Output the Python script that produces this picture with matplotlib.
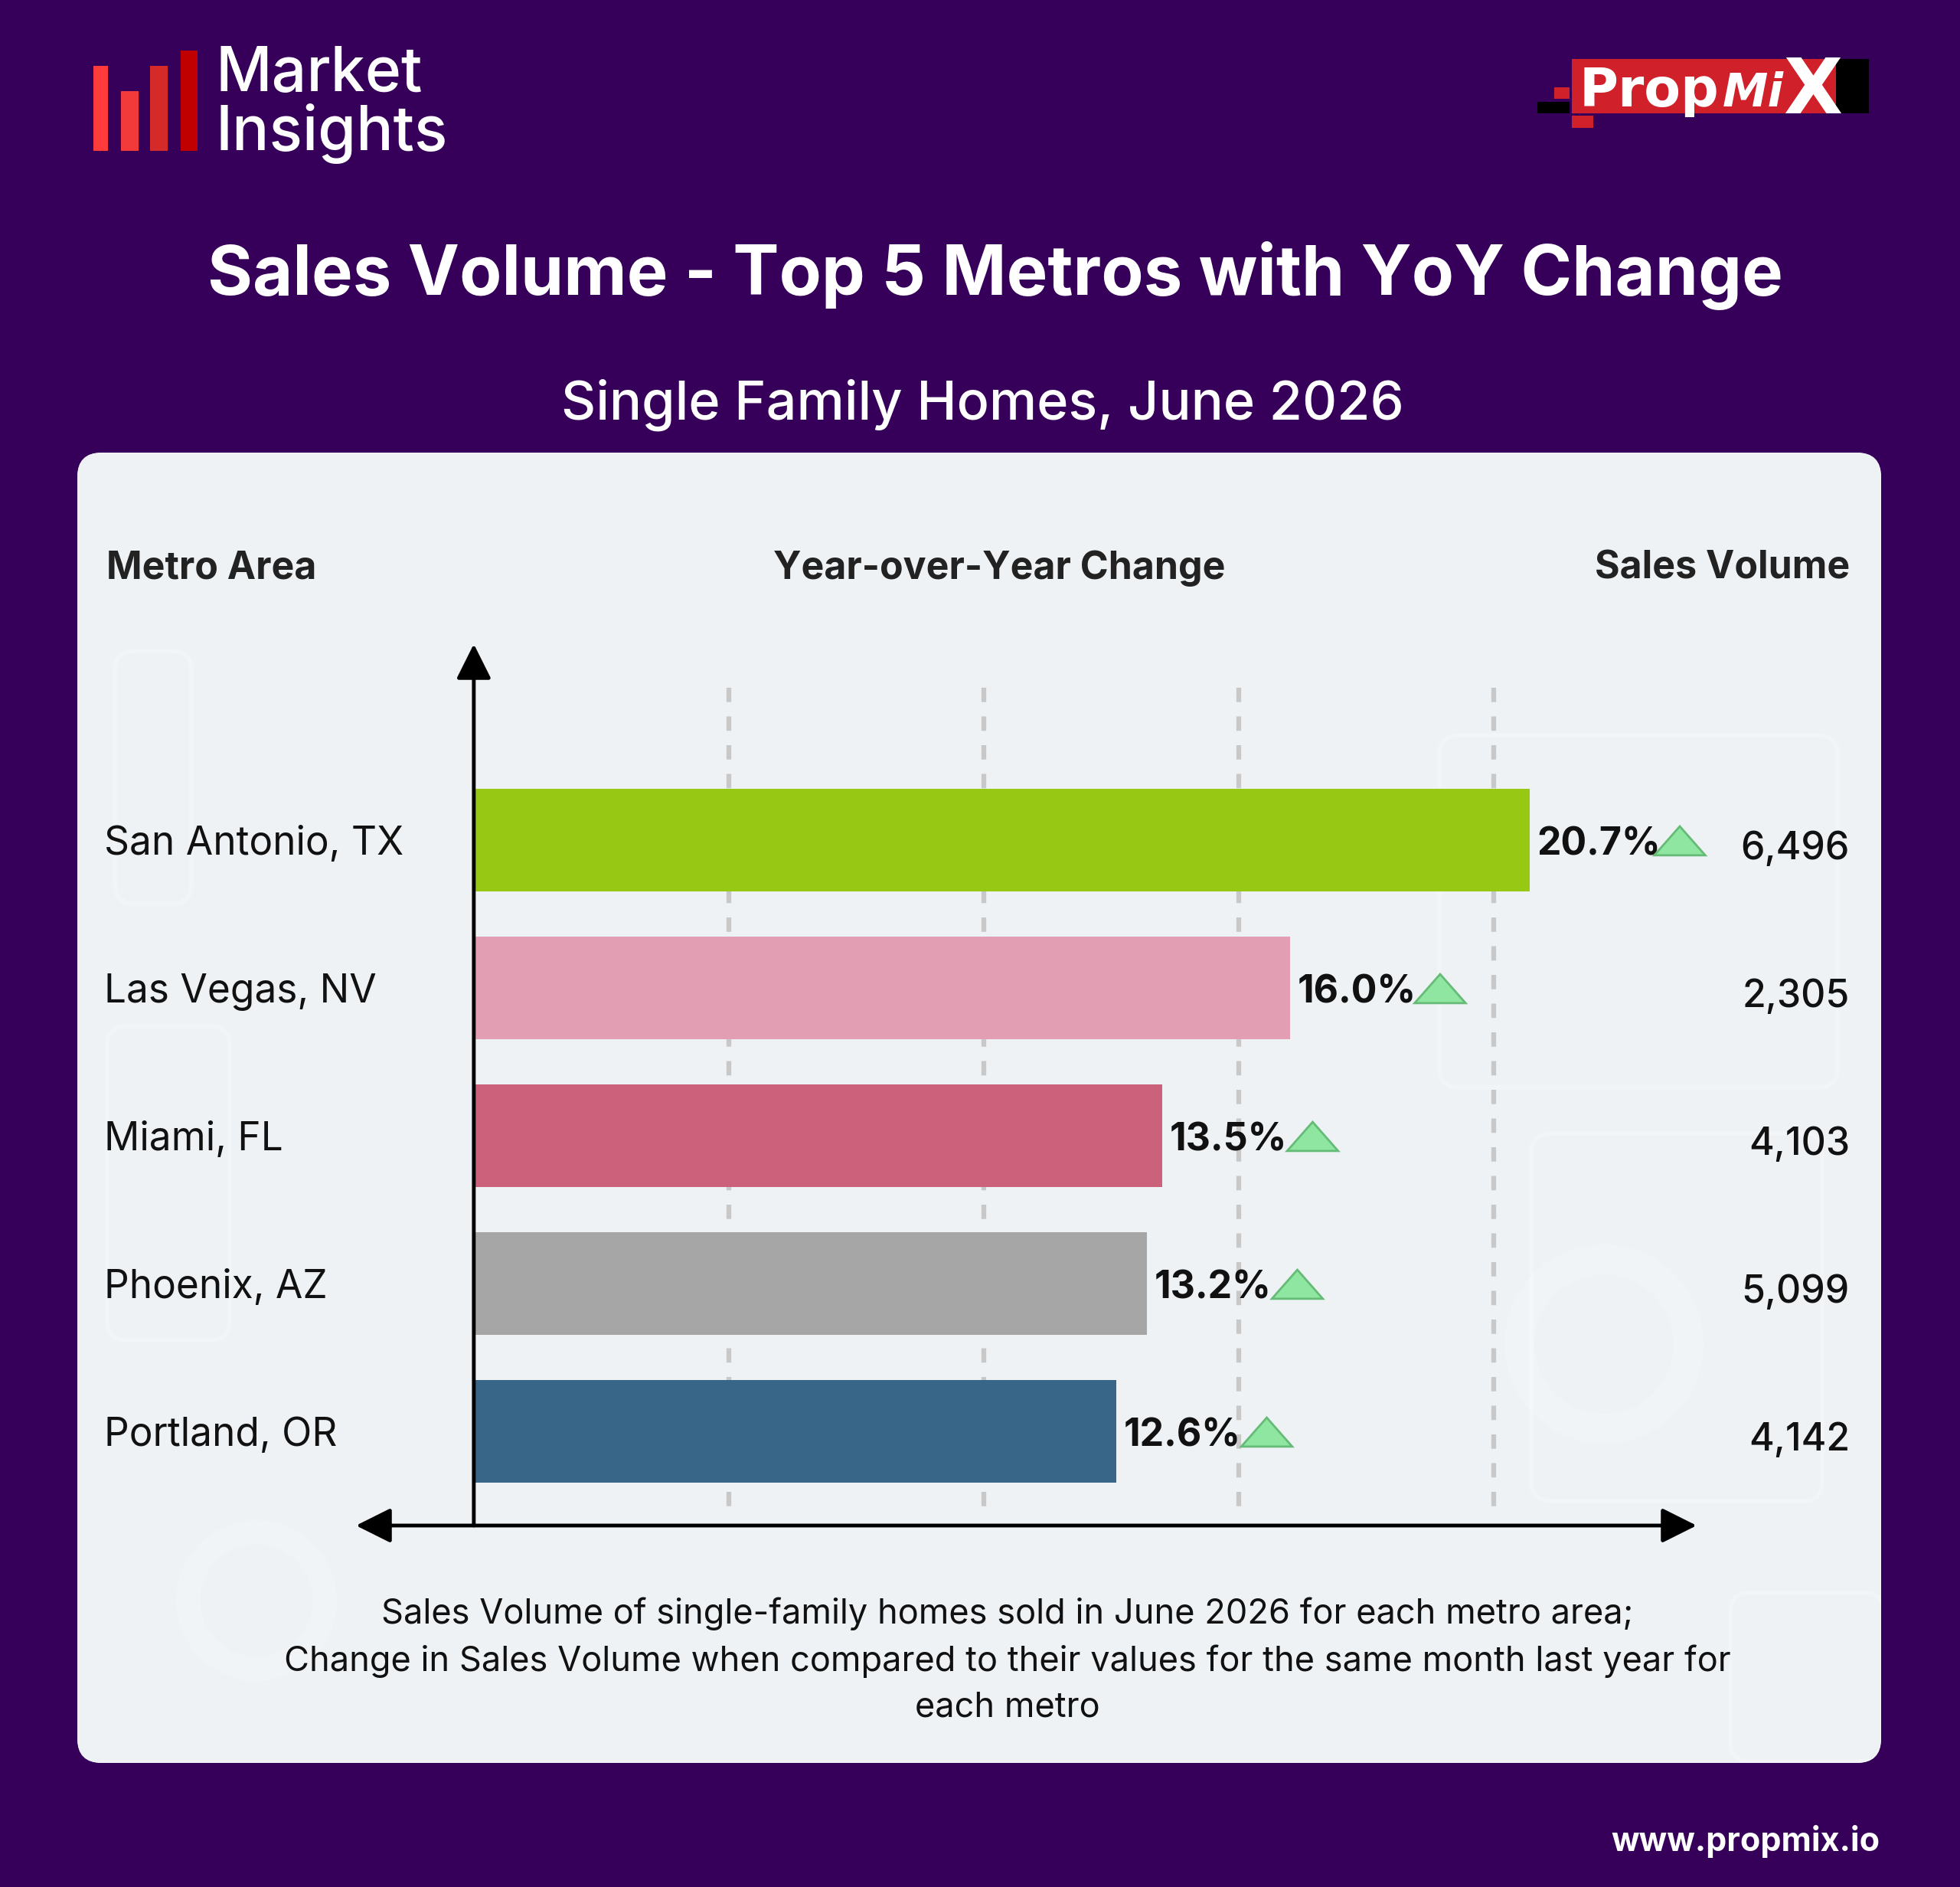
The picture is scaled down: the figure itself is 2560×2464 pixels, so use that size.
import numpy as np
import matplotlib
matplotlib.use("Agg")
import matplotlib.pyplot as plt
import matplotlib.transforms as mtransforms
from matplotlib.patches import FancyBboxPatch, Rectangle, Polygon, Wedge

# data
metros = ["San Antonio, TX", "Las Vegas, NV", "Miami, FL", "Phoenix, AZ", "Portland, OR"]
yoy_change = [20.7, 16.0, 13.5, 13.2, 12.6]
sales_volume = [6496, 2305, 4103, 5099, 4142]
bar_colors = ["#97c813", "#e29fb3", "#cb617b", "#a6a6a6", "#386688"]
grid_ticks = [5, 10, 15, 20]

plt.rcParams['font.family'] = ['Inter', 'DejaVu Sans']

W, H = 2560, 2464
PURPLE = "#36005a"
fig = plt.figure(figsize=(W / 100, H / 100), dpi=100)
fig.patch.set_facecolor(PURPLE)

# background layer in pixel coordinates
bg = fig.add_axes([0, 0, 1, 1])
bg.set_xlim(0, W)
bg.set_ylim(H, 0)
bg.axis('off')

panel = FancyBboxPatch((101, 591), 2356, 1711, boxstyle="round,pad=0,rounding_size=32",
                       fc="#eef2f5", ec="none")
bg.add_patch(panel)
# soft light gradient instead of the photo behind the chart
yy, xx = np.mgrid[0:1:240j, 0:1:240j]
glow = np.exp(-((xx - 0.5) ** 2 / 0.12 + (yy - 0.8) ** 2 / 0.15))
base = np.array([0.900, 0.922, 0.942])
top = np.array([0.972, 0.978, 0.984])
img = base + (top - base) * glow[..., None]
im = bg.imshow(img, extent=(101, 2457, 2302, 591), aspect='auto', interpolation='bicubic')
im.set_clip_path(panel)

# faint decorative shapes hinting at the photo
deco = [(150, 850, 250, 1180), (140, 1340, 300, 1750), (2000, 1480, 2380, 1960),
        (1880, 960, 2400, 1420), (2260, 2080, 2460, 2300)]
for x0, y0, x1, y1 in deco:
    card = FancyBboxPatch((x0, y0), x1 - x0, y1 - y0, boxstyle="round,pad=0,rounding_size=25",
                          fc="none", ec="white", lw=4, alpha=0.28)
    bg.add_patch(card)
    card.set_clip_path(panel)
for cx, cy, r in [(335, 2090, 105), (2095, 1755, 130)]:
    ring = Wedge((cx, cy), r, 0, 360, width=r * 0.3, fc="white", ec="none", alpha=0.22)
    bg.add_patch(ring)

# Market Insights logo
for x0, y0, w, c in [(122, 86, 19, "#ff3b3b"), (158, 119, 23, "#f23a3a"),
                     (196, 86, 23, "#d42a2a"), (236, 66, 22, "#c00000")]:
    bg.add_patch(Rectangle((x0, y0), w, 197 - y0, fc=c, ec="none"))
bg.text(281, 119, "Market", color="white", fontsize=58, fontweight='medium', va='baseline', ha='left')
bg.text(281, 196, "Insights", color="white", fontsize=58, fontweight='medium', va='baseline', ha='left')

# PropMix logo
bg.add_patch(Rectangle((2380, 77), 61, 71, fc="black", ec="none"))
bg.add_patch(Rectangle((2053, 77), 345, 71, fc="#d0202a", ec="none"))
bg.add_patch(Rectangle((2030, 114), 20, 15, fc="#d0202a", ec="none"))
bg.add_patch(Rectangle((2008, 133), 42, 15, fc="black", ec="none"))
bg.add_patch(Rectangle((2053, 151), 28, 16, fc="#d0202a", ec="none"))
bg.text(2063, 139, "Prop", color="white", fontsize=50, fontweight='bold', family='DejaVu Sans',
        va='baseline')
bg.text(2250, 139, "Mi", color="white", fontsize=43, fontweight='bold', style='italic',
        family='DejaVu Sans', va='baseline')
bg.text(2368, 148, "X", color="white", fontsize=72, fontweight='bold', family='DejaVu Sans',
        va='baseline', ha='center')

# titles
bg.text(1300, 360, "Sales Volume - Top 5 Metros with YoY Change", color="white",
        fontsize=65, fontweight='bold', ha='center', va='center')
bg.text(1283, 529, "Single Family Homes, June 2026", color="white",
        fontsize=50.5, fontweight='medium', ha='center', va='center')

# column headers
bg.text(139, 742, "Metro Area", fontsize=36, fontweight='bold', color="#222222", va='center')
bg.text(1305, 742, "Year-over-Year Change", fontsize=36, fontweight='bold', color="#222222",
        ha='center', va='center')
bg.text(2416, 742, "Sales Volume", fontsize=36, fontweight='bold', color="#222222",
        ha='right', va='center')

# chart
ax = fig.add_axes([465 / W, 1 - 1992 / H, (2216 - 465) / W, (1992 - 841) / H])
ax.set_xlim(-2.31, 23.98)
ax.set_ylim(4.637, -1.326)
ax.axis('off')
ax.patch.set_alpha(0)

ypos = np.arange(len(metros))
ax.vlines(grid_ticks, -1.03, 4.55, colors="#c8c8c8", lw=4.5, linestyles=(0, (3, 3)), zorder=1)
ax.barh(ypos, yoy_change, height=0.69, color=bar_colors, zorder=3)

arrow_kw = dict(lw=3.5, color="black", shrinkA=0, shrinkB=0, mutation_scale=20)
ax.annotate("", xy=(0, -1.326), xytext=(0, 4.637), annotation_clip=False,
            arrowprops=dict(arrowstyle="-|>,head_length=1.4,head_width=0.7", **arrow_kw))
ax.annotate("", xy=(23.98, 4.637), xytext=(-2.31, 4.637), annotation_clip=False,
            arrowprops=dict(arrowstyle="<|-|>,head_length=1.4,head_width=0.7", **arrow_kw))

fig_y = mtransforms.blended_transform_factory(fig.transFigure, ax.transData)
for i, (name, v, s) in enumerate(zip(metros, yoy_change, sales_volume)):
    ax.text(v + 0.15, i + 0.03, f"{v:.1f}%", fontsize=36, fontweight='bold', color="#111111",
            ha='left', va='center', zorder=4)
    cx = v + 2.95
    tri = Polygon([(cx - 0.5, i + 0.103), (cx + 0.5, i + 0.103), (cx, i - 0.093)],
                  closed=True, fc="#8ee6a0", ec="#66bb77", lw=2, zorder=4, clip_on=False)
    ax.add_patch(tri)
    ax.text(136 / W, i + 0.03, name, transform=fig_y, fontsize=37, color="#111111",
            ha='left', va='center')
    ax.text(2416 / W, i + 0.06, f"{s:,}", transform=fig_y, fontsize=36, fontweight='medium',
            color="#111111", ha='right', va='center')

# footnote
bg.text(1316, 2168, "Sales Volume of single-family homes sold in June 2026 for each metro area;\n"
        "Change in Sales Volume when compared to their values for the same month last year for\n"
        "each metro", fontsize=32.5, color="#111111", ha='center', va='center', linespacing=1.52)

bg.text(2455, 2405, "www.propmix.io", color="white", fontsize=31, fontweight='bold',
        ha='right', va='center')

fig.savefig("out.png", dpi=100, facecolor=PURPLE)
